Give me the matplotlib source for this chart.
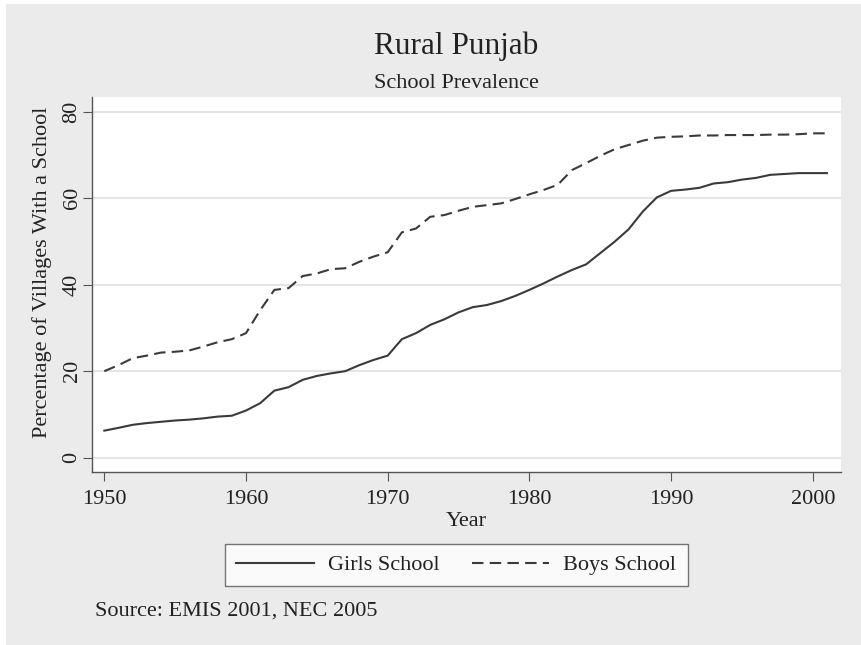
import matplotlib.pyplot as plt
from matplotlib.patches import Rectangle

# values
years = list(range(1950, 2002))
girls_school = [
    6.25, 6.9, 7.6, 8.0, 8.3, 8.6, 8.8, 9.1, 9.5, 9.7,
    10.9, 12.6, 15.5, 16.3, 18.0, 18.9, 19.5, 20.0, 21.4, 22.6,
    23.6, 27.4, 28.8, 30.7, 32.0, 33.6, 34.8, 35.3, 36.2, 37.4,
    38.8, 40.3, 41.9, 43.4, 44.7, 47.3, 49.9, 52.8, 56.9, 60.2,
    61.7, 62.0, 62.4, 63.4, 63.7, 64.3, 64.7, 65.4, 65.6, 65.8,
    65.8, 65.8,
]
boys_school = [
    20.0, 21.4, 23.0, 23.6, 24.3, 24.5, 24.8, 25.7, 26.7, 27.4,
    28.8, 34.1, 38.8, 39.2, 42.0, 42.6, 43.6, 43.8, 45.3, 46.5,
    47.5, 52.1, 53.0, 55.7, 56.1, 57.1, 58.0, 58.4, 58.8, 59.8,
    60.9, 61.9, 63.1, 66.5, 68.1, 69.8, 71.3, 72.3, 73.3, 74.0,
    74.2, 74.3, 74.5, 74.5, 74.6, 74.6, 74.6, 74.7, 74.7, 74.8,
    75.0, 75.0,
]
x_ticks = [1950, 1960, 1970, 1980, 1990, 2000]
y_ticks = [0, 20, 40, 60, 80]

line_col = "#3a3a3a"
bg_col = "#eaebea"

plt.rcParams["font.family"] = ["Liberation Serif", "DejaVu Serif"]
plt.rcParams["font.size"] = 16

fig = plt.figure(figsize=(8.62, 6.45), dpi=100, facecolor="white")
# gray graph region (thin white strip on the left and top)
fig.patches.append(Rectangle((6 / 862, 0), 1, 1 - 4 / 645, transform=fig.transFigure,
                             facecolor=bg_col, edgecolor="none", zorder=-10))

ax = fig.add_axes([91.7 / 862, 1 - 472 / 645, 749 / 862, 375 / 645])
ax.set_facecolor("white")

ax.plot(years, girls_school, color=line_col, lw=1.5, label="Girls School")
ax.plot(years, boys_school, color=line_col, lw=1.5, linestyle=(0, (5.5, 3)),
        label="Boys School")

ax.set_xlim(1949.11, 2001.97)
ax.set_ylim(-3.31, 83.4)
ax.set_xticks(x_ticks)
ax.set_yticks(y_ticks)
ax.grid(axis="y", color="#e4e5e4", lw=1.5)
ax.set_axisbelow(True)

for side in ["top", "right"]:
    ax.spines[side].set_visible(False)
for side in ["left", "bottom"]:
    ax.spines[side].set_color("#555555")
    ax.spines[side].set_linewidth(1.0)

ax.tick_params(axis="both", direction="out", length=6.8, width=0.8, color="#555555",
               labelsize=16, labelcolor="#222222")
ax.tick_params(axis="x", pad=6.5)
ax.tick_params(axis="y", pad=0.5, labelrotation=90)
for lbl in ax.get_yticklabels():
    lbl.set_va("center")

ax.set_ylabel("Percentage of Villages With a School", fontsize=16, color="#222222",
              va="center")
ax.yaxis.set_label_coords((42 - 91.7) / 749, (472 - 272.5) / 375)
ax.set_xlabel("Year", fontsize=16, color="#222222", va="baseline")
ax.xaxis.set_label_coords(0.5, (472 - 526) / 375)

fig.text(456 / 862, 1 - 54 / 645, "Rural Punjab", ha="center", va="baseline",
         fontsize=22.5, color="#222222")
fig.text(456 / 862, 1 - 88 / 645, "School Prevalence", ha="center", va="baseline",
         fontsize=16, color="#222222")
fig.text(95 / 862, 1 - 616 / 645, "Source: EMIS 2001, NEC 2005", ha="left",
         va="baseline", fontsize=16, color="#222222")

leg = fig.legend(loc="center", bbox_to_anchor=(456.4 / 862, 1 - 565 / 645), ncol=2,
                 handlelength=3.5, handletextpad=0.63, columnspacing=1.44,
                 borderpad=0.5, fancybox=False, frameon=True, fontsize=16)
leg.get_frame().set_edgecolor("#555555")
leg.get_frame().set_linewidth(1.0)
leg.get_frame().set_facecolor("white")
for t in leg.get_texts():
    t.set_color("#222222")

fig.savefig("out.png", dpi=100, facecolor=fig.get_facecolor())
